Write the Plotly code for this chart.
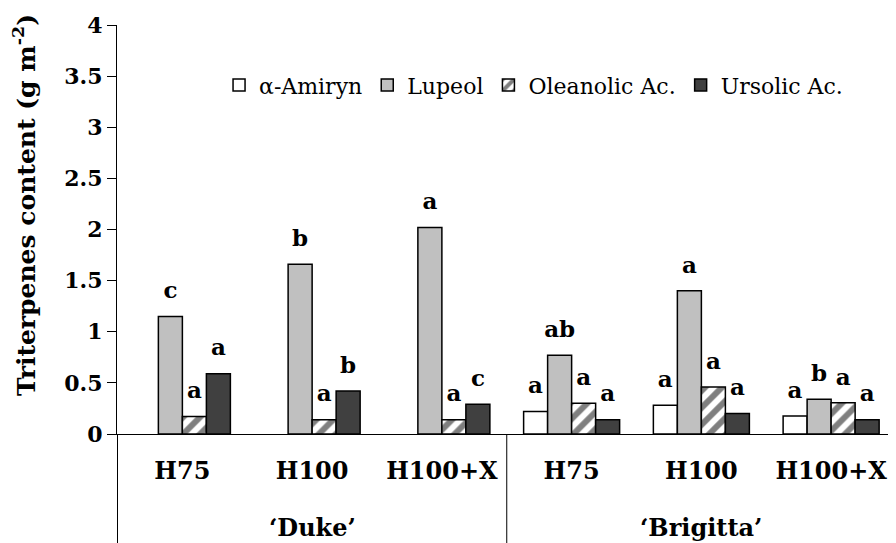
import plotly.graph_objects as go

cultivars = ["‘Duke’", "‘Brigitta’"]
treatments = ["H75", "H100", "H100+X", "H75", "H100", "H100+X"]
groups = ["Duke H75", "Duke H100", "Duke H100+X", "Brigitta H75", "Brigitta H100", "Brigitta H100+X"]

series = ["α-Amiryn", "Lupeol", "Oleanolic Ac.", "Ursolic Ac."]
amiryn = [None, None, None, 0.22, 0.28, 0.175]
lupeol = [1.15, 1.66, 2.02, 0.77, 1.40, 0.34]
oleanolic = [0.17, 0.14, 0.14, 0.30, 0.46, 0.305]
ursolic = [0.59, 0.42, 0.29, 0.14, 0.20, 0.14]

amiryn_lbl = ["", "", "", "a", "a", "a"]
lupeol_lbl = ["c", "b", "a", "ab", "a", "b"]
oleanolic_lbl = ["a", "a", "a", "a", "a", "a"]
ursolic_lbl = ["a", "b", "c", "a", "a", "a"]

SERIF = "DejaVu Serif"
LABEL_PAD = 0.1  # gap (data units) between bar top and its letter

markers = [
    dict(color="white", line=dict(color="black", width=1.5)),
    dict(color="#c0c0c0", line=dict(color="black", width=1.5)),
    dict(color="white", line=dict(color="black", width=1.5),
         pattern=dict(shape="/", fgcolor="black", bgcolor="white", size=12, solidity=0.5)),
    dict(color="#404040", line=dict(color="black", width=1.5)),
]

fig = go.Figure()
for i, (name, vals, lbls, mk) in enumerate(zip(series, [amiryn, lupeol, oleanolic, ursolic],
                                              [amiryn_lbl, lupeol_lbl, oleanolic_lbl, ursolic_lbl],
                                              markers)):
    fig.add_trace(go.Bar(name=name, x=groups, y=vals, marker=mk, offsetgroup=str(i)))
    fig.add_trace(go.Bar(x=groups, y=[LABEL_PAD if v is not None else None for v in vals],
                         base=vals, offsetgroup=str(i), showlegend=False, hoverinfo="skip",
                         marker=dict(color="rgba(0,0,0,0)", line=dict(width=0)),
                         text=[f"<b>{t}</b>" if t else "" for t in lbls],
                         textposition="outside", cliponaxis=False, constraintext="none",
                         textfont=dict(family=SERIF, size=23, color="black")))

# cultivar labels and dividers
for gi, cv in zip([1, 4], cultivars):
    fig.add_annotation(x=groups[gi], y=-0.2274, xref="x", yref="paper", text=f"<b>{cv}</b>",
                       showarrow=False, yanchor="middle",
                       font=dict(family=SERIF, size=24, color="black"))
for xd in [-0.5, 2.5]:
    fig.add_shape(type="line", xref="x", yref="paper", x0=xd, x1=xd, y0=0, y1=-0.3,
                  line=dict(color="black", width=1))

# y-axis title
fig.add_annotation(x=-0.118, y=0.56, xref="paper", yref="paper", textangle=-90,
                   text="<b>Triterpenes content (g m<sup>-2</sup>)</b>", showarrow=False,
                   xanchor="center", yanchor="middle",
                   font=dict(family=SERIF, size=25, color="black"))

fig.update_layout(
    width=896, height=543,
    margin=dict(l=109, r=8, t=17, b=117, autoexpand=False),
    barmode="group", bargap=0.26, bargroupgap=0,
    plot_bgcolor="white", paper_bgcolor="white",
    font=dict(family=SERIF, color="black"),
    legend=dict(orientation="h", x=0.131, y=0.853, xanchor="left", yanchor="middle",
                font=dict(family=SERIF, size=22, color="black"),
                bgcolor="rgba(0,0,0,0)", itemwidth=30, tracegroupgap=0),
    showlegend=True,
)
fig.update_yaxes(range=[0, 4], dtick=0.5, showgrid=False, zeroline=False, automargin=False,
                 showline=True, linecolor="black", linewidth=1,
                 ticks="outside", ticklen=9, tickcolor="black",
                 tickfont=dict(family=SERIF, size=22, color="black"),
                 tickformat="~g", tickprefix="<b>", ticksuffix="</b>")
fig.update_xaxes(showgrid=False, showline=True, linecolor="black", linewidth=1, automargin=False,
                 tickmode="array", tickvals=groups, ticktext=[f"<b>{t}</b>" for t in treatments],
                 tickfont=dict(family=SERIF, size=24, color="black"),
                 ticks="", ticklabelstandoff=15)
fig.write_html("out.html")
